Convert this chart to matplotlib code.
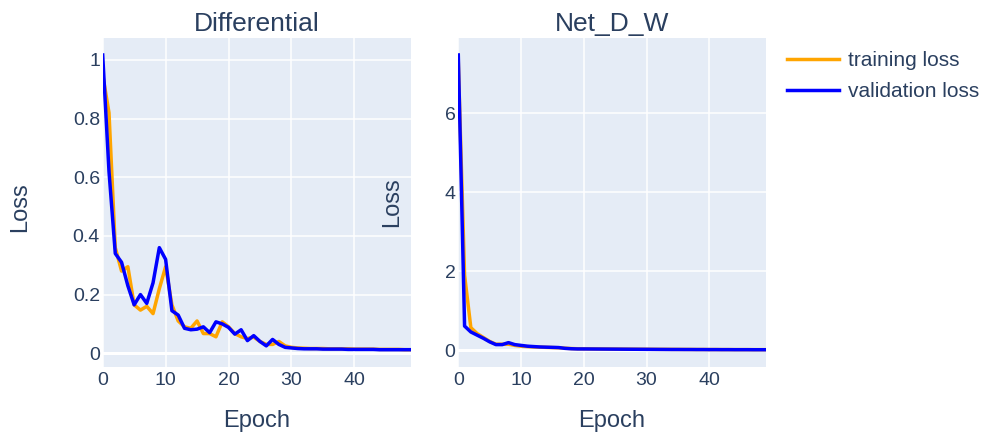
import matplotlib
matplotlib.use("Agg")
import matplotlib.pyplot as plt

plt.rcParams['font.family'] = ['Liberation Sans', 'DejaVu Sans']

epochs = list(range(50))

# Differential
diff_train = [0.95, 0.82, 0.36, 0.28, 0.295, 0.165, 0.147, 0.16, 0.135, 0.22,
              0.295, 0.165, 0.11, 0.09, 0.085, 0.11, 0.067, 0.067, 0.056, 0.107,
              0.09, 0.067, 0.056, 0.05, 0.055, 0.04, 0.03, 0.03, 0.04, 0.025,
              0.02, 0.018, 0.017, 0.016, 0.016, 0.016, 0.015, 0.015, 0.015, 0.015,
              0.014, 0.014, 0.014, 0.014, 0.013, 0.013, 0.013, 0.013, 0.012, 0.012]
diff_val = [1.017, 0.62, 0.34, 0.31, 0.23, 0.165, 0.2, 0.17, 0.24, 0.36,
            0.32, 0.145, 0.13, 0.085, 0.08, 0.082, 0.09, 0.07, 0.107, 0.1,
            0.088, 0.065, 0.08, 0.043, 0.06, 0.04, 0.025, 0.047, 0.03, 0.02,
            0.018, 0.016, 0.015, 0.015, 0.015, 0.014, 0.014, 0.014, 0.014, 0.013,
            0.013, 0.013, 0.013, 0.013, 0.012, 0.012, 0.012, 0.012, 0.012, 0.012]

# Net_D_W
net_train = [7.3, 1.9, 0.57, 0.42, 0.32, 0.22, 0.15, 0.15, 0.15, 0.12,
             0.1, 0.09, 0.08, 0.075, 0.07, 0.065, 0.06, 0.05, 0.04, 0.035,
             0.033, 0.032, 0.03, 0.029, 0.028, 0.027, 0.026, 0.025, 0.024, 0.023,
             0.022, 0.021, 0.02, 0.02, 0.019, 0.018, 0.018, 0.017, 0.016, 0.016,
             0.015, 0.015, 0.014, 0.014, 0.013, 0.013, 0.013, 0.012, 0.012, 0.012]
net_val = [7.48, 0.61, 0.46, 0.38, 0.3, 0.21, 0.14, 0.14, 0.19, 0.14,
           0.12, 0.1, 0.09, 0.08, 0.075, 0.07, 0.065, 0.045, 0.035, 0.03,
           0.03, 0.029, 0.028, 0.027, 0.026, 0.025, 0.024, 0.023, 0.022, 0.021,
           0.02, 0.019, 0.018, 0.017, 0.016, 0.016, 0.015, 0.015, 0.014, 0.014,
           0.013, 0.013, 0.012, 0.012, 0.011, 0.011, 0.011, 0.01, 0.01, 0.01]

titles = ['Differential', 'Net_D_W']
y_ticks = [[0, 0.2, 0.4, 0.6, 0.8, 1], [0, 2, 4, 6]]
y_ticklabels = [['0', '0.2', '0.4', '0.6', '0.8', '1'], ['0', '2', '4', '6']]
y_lims = [(-0.046, 1.075), (-0.42, 7.91)]
x_ticks = [0, 10, 20, 30, 40]

TXT = '#2a3f5f'
W, H = 985, 436
fig = plt.figure(figsize=(W / 100, H / 100), dpi=100)
fig.patch.set_facecolor('white')

boxes = [(102.7, 411.0), (458.3, 765.7)]
top, bottom = 38.0, 366.7
loss_pos = [(-0.267, 0.484), (-0.214, 0.501)]

series = [(diff_train, diff_val), (net_train, net_val)]
for i, (l, r) in enumerate(boxes):
    ax = fig.add_axes([l / W, 1 - bottom / H, (r - l) / W, (bottom - top) / H])
    ax.set_facecolor('#E5ECF6')
    for s in ax.spines.values():
        s.set_visible(False)
    ax.set_axisbelow(True)
    ax.grid(True, color='white', lw=1.1)
    ax.axhline(0, color='white', lw=2.2, zorder=1)
    tr, va = series[i]
    ax.plot(epochs, tr, color='orange', lw=2.5, label='training loss', zorder=3)
    ax.plot(epochs, va, color='blue', lw=2.5, label='validation loss', zorder=4)
    ax.set_xlim(0, 49)
    ax.set_ylim(*y_lims[i])
    ax.set_xticks(x_ticks)
    ax.set_xticklabels([str(t) for t in x_ticks])
    ax.set_yticks(y_ticks[i])
    ax.set_yticklabels(y_ticklabels[i])
    ax.tick_params(axis='both', length=0, labelsize=14, colors=TXT)
    ax.tick_params(axis='x', pad=4)
    ax.tick_params(axis='y', pad=2)
    ax.text(0.5, 1.043, titles[i], transform=ax.transAxes, ha='center', va='center',
            fontsize=19, color=TXT)
    ax.set_xlabel('Epoch', fontsize=17, color=TXT, va='center')
    ax.xaxis.set_label_coords(0.5, -0.166)
    ax.set_ylabel('Loss', fontsize=17, color=TXT, va='center')
    ax.yaxis.set_label_coords(*loss_pos[i])
    if i == 0:
        handles, labels = ax.get_legend_handles_labels()

fig.legend(handles, labels, loc='upper left', bbox_to_anchor=(787 / W, 1 - 51.5 / H),
           frameon=False, fontsize=15, handlelength=2.5, handletextpad=0.45,
           labelspacing=0.55, borderpad=0, borderaxespad=0, labelcolor=TXT)

fig.savefig('out.png', dpi=100)
